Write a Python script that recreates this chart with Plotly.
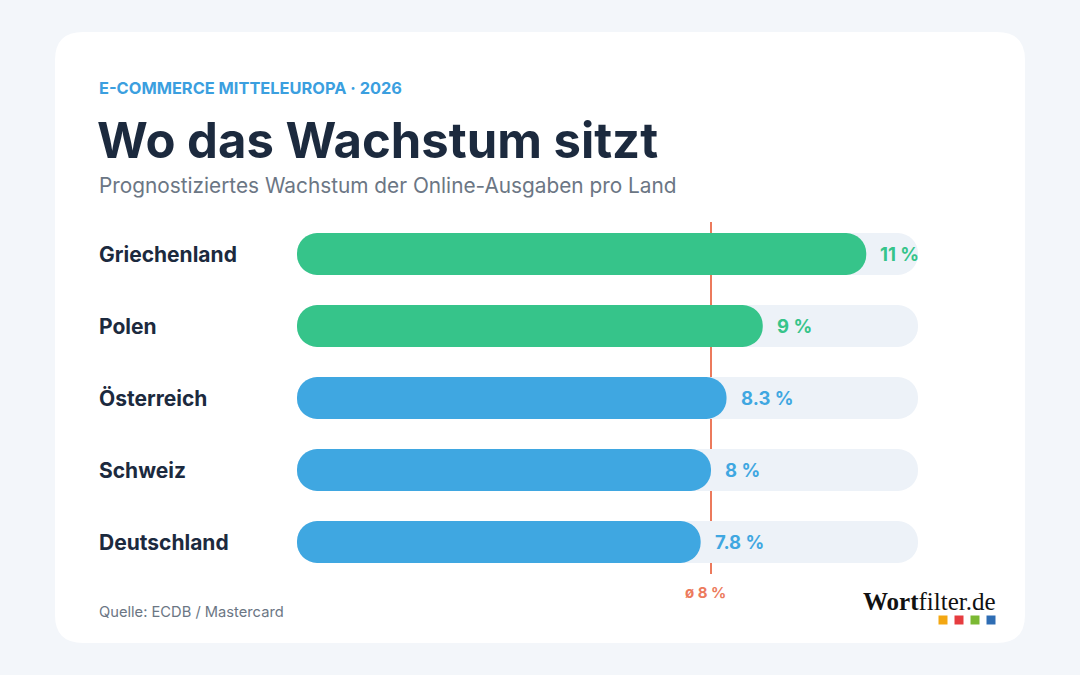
import plotly.graph_objects as go

# ---- data ----
countries = ["Griechenland", "Polen", "Österreich", "Schweiz", "Deutschland"]
growth = [11, 9, 8.3, 8, 7.8]
value_labels = ["11 %", "9 %", "8.3 %", "8 %", "7.8 %"]
highlight = [True, True, False, False, False]
average = 8
average_label = "ø 8 %"
axis_max = 12

GREEN = "#36c48a"
BLUE = "#3fa7e1"
TRACK = "#edf2f8"
AVG = "#ec7a5c"
DARK = "#1c2a3e"
GRAY = "#6b7684"
FONT = "Inter, 'Open Sans', sans-serif"

W, H = 1080, 675
ML, MR, MT, MB = 297, 162, 218, 97
PW, PH = W - ML - MR, H - MT - MB


def px(x):
    return (x - ML) / PW


def py(y):
    return (H - MB - y) / PH


colors = [GREEN if h else BLUE for h in highlight]

fig = go.Figure()

# tracks
fig.add_trace(go.Bar(
    y=countries, x=[axis_max] * len(countries), base=[0] * len(countries),
    orientation="h", marker=dict(color=TRACK, line=dict(width=0)),
    width=0.58, hoverinfo="skip", showlegend=False))

# value bars
fig.add_trace(go.Bar(
    y=countries, x=growth, base=[0] * len(countries),
    orientation="h", marker=dict(color=colors, line=dict(width=0)),
    width=0.58, showlegend=False))

annotations = []
# value labels
for c, v, t, col in zip(countries, growth, value_labels, colors):
    annotations.append(dict(x=v, y=c, xref="x", yref="y", text=f"<b>{t}</b>",
                            xanchor="left", yanchor="middle", xshift=12, showarrow=False,
                            font=dict(family=FONT, size=18.5, color=col)))
# category labels
for c in countries:
    annotations.append(dict(x=px(97), y=c, xref="paper", yref="y", text=f"<b>{c}</b>",
                            xanchor="left", yanchor="middle", showarrow=False,
                            font=dict(family=FONT, size=21, color=DARK)))
# average label
annotations.append(dict(x=average, y=py(592), xref="x", yref="paper", text=f"<b>{average_label}</b>",
                        xanchor="center", yanchor="middle", showarrow=False, xshift=-6,
                        font=dict(family=FONT, size=15, color=AVG)))
# titles
annotations += [
    dict(x=px(97), y=py(88), xref="paper", yref="paper", text="<b>E-COMMERCE MITTELEUROPA · 2026</b>",
         xanchor="left", yanchor="middle", showarrow=False,
         font=dict(family=FONT, size=16.4, color="#3b9fdf")),
    dict(x=px(95), y=py(140), xref="paper", yref="paper", text="<b>Wo das Wachstum sitzt</b>",
         xanchor="left", yanchor="middle", showarrow=False,
         font=dict(family=FONT, size=49, color=DARK)),
    dict(x=px(97), y=py(185), xref="paper", yref="paper",
         text="Prognostiziertes Wachstum der Online-Ausgaben pro Land",
         xanchor="left", yanchor="middle", showarrow=False,
         font=dict(family=FONT, size=20.8, color=GRAY)),
    dict(x=px(97), y=py(612), xref="paper", yref="paper", text="Quelle: ECDB / Mastercard",
         xanchor="left", yanchor="middle", showarrow=False,
         font=dict(family=FONT, size=14.7, color=GRAY)),
    dict(x=px(998), y=py(601), xref="paper", yref="paper",
         text="<b>Wort</b>filter.de",
         xanchor="right", yanchor="middle", showarrow=False,
         font=dict(family="'Liberation Serif', 'DejaVu Serif', serif", size=25, color="#111111")),
]

# card
x0, x1, y0, y1, r = 55, 1025, 32, 643, 28
card_path = (
    f"M {px(x0 + r)} {py(y0)} L {px(x1 - r)} {py(y0)} "
    f"Q {px(x1)} {py(y0)} {px(x1)} {py(y0 + r)} L {px(x1)} {py(y1 - r)} "
    f"Q {px(x1)} {py(y1)} {px(x1 - r)} {py(y1)} L {px(x0 + r)} {py(y1)} "
    f"Q {px(x0)} {py(y1)} {px(x0)} {py(y1 - r)} L {px(x0)} {py(y0 + r)} "
    f"Q {px(x0)} {py(y0)} {px(x0 + r)} {py(y0)} Z"
)
shapes = [dict(type="path", path=card_path, xref="paper", yref="paper",
               fillcolor="white", line=dict(width=0), layer="below")]
# average line
shapes.append(dict(type="line", x0=average, x1=average, xref="x", y0=py(574), y1=py(222), yref="paper",
                   line=dict(color=AVG, width=2), layer="below"))
# logo squares
for cx, col in zip([943, 959, 975, 991], ["#f3a712", "#e63c3f", "#7bb933", "#2e6db4"]):
    shapes.append(dict(type="rect", xref="paper", yref="paper",
                       x0=px(cx - 4.5), x1=px(cx + 4.5), y0=py(624.5), y1=py(615.5),
                       fillcolor=col, line=dict(width=0), layer="above"))

fig.update_layout(
    width=W, height=H,
    margin=dict(l=ML, r=MR, t=MT, b=MB, pad=0),
    paper_bgcolor="#f3f6fa", plot_bgcolor="rgba(0,0,0,0)",
    barmode="overlay", barcornerradius=21,
    xaxis=dict(range=[0, axis_max], visible=False, fixedrange=True),
    yaxis=dict(range=[len(countries) - 0.5, -0.5], visible=False, fixedrange=True,
               categoryorder="array", categoryarray=countries),
    annotations=annotations, shapes=shapes, showlegend=False,
)

fig.write_html("out.html", config={"displayModeBar": False})
